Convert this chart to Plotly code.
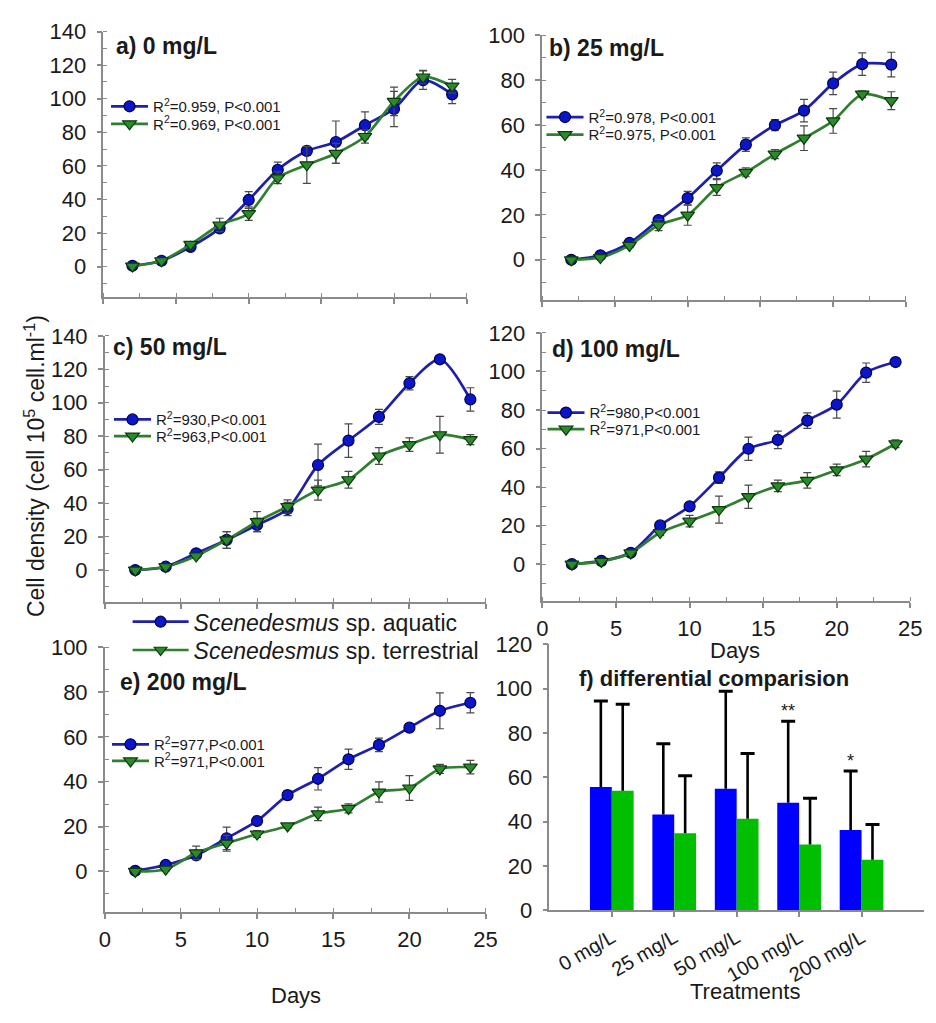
import plotly.graph_objects as go

W, H = 936, 1023
FONT = "Liberation Sans, Arial, sans-serif"

# ---------------- data ----------------
days = [2, 4, 6, 8, 10, 12, 14, 16, 18, 20, 22, 24]

a_aq = [0.5, 3.5, 11.8, 22.8, 39.7, 57.7, 68.9, 74.2, 84.2, 93.9, 111.0, 102.6]
a_aq_err = [0.5, 0.8, 1.5, 1.5, 5.0, 4.5, 2.5, 12.5, 8.0, 10.5, 5.5, 5.5]
a_te = [0.3, 3.5, 13.2, 24.8, 31.6, 52.9, 60.6, 67.4, 77.5, 98.4, 112.9, 107.5]
a_te_err = [0.5, 0.8, 1.5, 4.0, 4.0, 3.5, 11.0, 6.0, 4.0, 8.5, 4.0, 4.0]

b_aq = [0.0, 2.0, 7.5, 17.7, 27.5, 39.7, 51.3, 60.0, 66.5, 78.6, 87.2, 87.0]
b_aq_err = [0.5, 0.8, 1.0, 1.5, 3.0, 3.5, 3.0, 2.5, 5.0, 5.0, 5.0, 5.5]
b_te = [0.0, 1.0, 6.4, 15.5, 19.9, 32.2, 39.0, 47.1, 54.2, 61.9, 73.8, 70.9]
b_te_err = [0.5, 0.8, 1.0, 2.5, 4.5, 3.5, 2.0, 2.0, 5.5, 5.5, 1.5, 4.0]

c_aq = [0.0, 2.0, 10.0, 18.0, 27.0, 36.5, 62.8, 77.4, 91.6, 111.7, 126.0, 102.0]
c_aq_err = [0.5, 0.8, 1.0, 5.0, 4.0, 4.0, 12.5, 10.0, 4.5, 4.0, 1.5, 7.0]
c_te = [0.0, 2.0, 8.4, 18.0, 28.9, 38.0, 47.8, 54.0, 68.2, 75.0, 80.9, 78.0]
c_te_err = [0.5, 0.8, 1.0, 5.0, 6.0, 4.0, 6.0, 5.0, 5.0, 4.0, 11.0, 3.0]

d_aq = [0.0, 1.7, 5.9, 20.1, 30.0, 44.9, 59.9, 64.5, 74.5, 82.8, 99.4, 104.9]
d_aq_err = [0.5, 0.8, 1.0, 1.5, 2.0, 3.0, 6.0, 4.5, 4.0, 7.0, 5.0, 2.0]
d_te = [0.0, 1.4, 5.8, 16.4, 22.3, 28.3, 35.0, 40.6, 43.5, 48.9, 54.5, 62.5]
d_te_err = [0.5, 0.8, 1.0, 1.5, 3.0, 7.0, 6.0, 3.0, 4.0, 3.0, 4.0, 2.0]

e_aq = [0.3, 2.9, 7.2, 14.8, 22.5, 34.0, 41.3, 50.0, 56.4, 64.1, 71.6, 75.2]
e_aq_err = [0.5, 0.8, 1.0, 5.0, 1.5, 2.0, 5.0, 4.5, 3.0, 1.0, 8.0, 4.5]
e_te = [0.0, 1.0, 8.3, 12.6, 16.7, 20.3, 25.7, 28.1, 35.4, 37.2, 45.7, 46.5]
e_te_err = [0.5, 0.8, 3.0, 3.5, 1.5, 1.0, 3.0, 2.0, 4.5, 5.5, 2.0, 3.0]

r2_text = {
    "a": ["R<sup>2</sup>=0.959, P<0.001", "R<sup>2</sup>=0.969, P<0.001"],
    "b": ["R<sup>2</sup>=0.978, P<0.001", "R<sup>2</sup>=0.975, P<0.001"],
    "c": ["R<sup>2</sup>=930,P<0.001", "R<sup>2</sup>=963,P<0.001"],
    "d": ["R<sup>2</sup>=980,P<0.001", "R<sup>2</sup>=971,P<0.001"],
    "e": ["R<sup>2</sup>=977,P<0.001", "R<sup>2</sup>=971,P<0.001"],
}
panel_titles = {"a": "a) 0 mg/L", "b": "b) 25 mg/L", "c": "c) 50 mg/L",
                "d": "d) 100 mg/L", "e": "e) 200 mg/L"}

treatments = ["0 mg/L", "25 mg/L", "50 mg/L", "100 mg/L", "200 mg/L"]
f_aq = [55.6, 43.2, 54.9, 48.6, 36.3]
f_aq_err = [38.8, 31.9, 43.9, 36.7, 26.5]
f_te = [54.0, 34.8, 41.3, 29.7, 22.9]
f_te_err = [38.9, 25.9, 29.4, 20.9, 15.9]
f_marks = ["", "", "", "**", "*"]

series_names = ["<i>Scenedesmus</i> sp. aquatic", "<i>Scenedesmus</i> sp. terrestrial"]

# ---------------- styles ----------------
BLUE_L, BLUE_F, BLUE_E = "#1f1fae", "#0a16c8", "#00004f"
GREEN_L, GREEN_F, GREEN_E = "#2f7f2f", "#2b8a2b", "#0b3a0b"
BAR_B, BAR_G = "#0000ff", "#00bf00"
AX = "#8a8a8a"
TXT = "#1a1a1a"


def px_x(p):
    return p / W


def px_y(p):
    return 1 - p / H


# panel geometry in pixels: (x0, x1, ytop, ybottom, yrange)
geo = {
    "a": (99.3, 469.7, 20, 292, [-18, 140]),
    "b": (546.7, 917.5, 24, 295.4, [-18, 100]),
    "c": (100.7, 489, 332, 604.6, [-19, 140]),
    "d": (547, 922, 329, 603.5, [-19, 120]),
    "e": (100.7, 489, 651, 922.4, [-18, 100]),
}
title_pos = {"a": (110, 35), "b": (552, 37), "c": (107, 343), "d": (555, 345), "e": (114, 687)}
# (text start x, row1 y, row2 y)
legend_pos = {"a": (153, 104, 122), "b": (597, 115, 133), "c": (156, 425, 442),
              "d": (598, 418, 435), "e": (154, 758, 775)}

fig = go.Figure()
layout = dict(
    width=W, height=H, margin=dict(l=0, r=0, t=0, b=0),
    paper_bgcolor="white", plot_bgcolor="white",
    font=dict(family=FONT, color=TXT),
    showlegend=True, annotations=[],
)

axis_base = dict(
    showline=True, linecolor=AX, linewidth=1.5, ticks="outside", ticklen=5,
    tickcolor=AX, tickwidth=1.5, showgrid=False, zeroline=False,
    tickfont=dict(family=FONT, size=22, color=TXT), fixedrange=True,
)

panels = [
    ("a", a_aq, a_aq_err, a_te, a_te_err, False),
    ("b", b_aq, b_aq_err, b_te, b_te_err, False),
    ("c", c_aq, c_aq_err, c_te, c_te_err, False),
    ("d", d_aq, d_aq_err, d_te, d_te_err, True),
    ("e", e_aq, e_aq_err, e_te, e_te_err, True),
]

LEG_IW = 37
leg_counter = [1]


def new_legend(text_x, row_y, size, iw, top_off):
    leg_counter[0] += 1
    name = f"legend{leg_counter[0]}"
    layout[name] = dict(
        x=px_x(text_x - iw - 14), y=px_y(row_y - top_off), xanchor="left", yanchor="top",
        bgcolor="rgba(0,0,0,0)", borderwidth=0, tracegroupgap=0,
        font=dict(family=FONT, size=size, color=TXT), itemwidth=iw,
    )
    return name


for i, (key, aq, aqe, te, tee, showx) in enumerate(panels):
    n = i + 1
    xa = "x" if n == 1 else f"x{n}"
    ya = "y" if n == 1 else f"y{n}"
    x0, x1, yt, yb, yr = geo[key]
    layout["xaxis" if n == 1 else f"xaxis{n}"] = dict(
        axis_base, domain=[px_x(x0), px_x(x1)], range=[0, 25], dtick=5, tick0=0,
        anchor=ya, showticklabels=showx, ticklabelstandoff=2,
        minor=dict(ticks="inside", dtick=2.5, tick0=0, ticklen=4, tickcolor=AX, tickwidth=1.2),
    )
    layout["yaxis" if n == 1 else f"yaxis{n}"] = dict(
        axis_base, domain=[px_y(yb), px_y(yt)], range=yr, dtick=20, tick0=0,
        anchor=xa, ticklabelstandoff=6,
        minor=dict(ticks="inside", dtick=10, tick0=0, ticklen=4, tickcolor=AX, tickwidth=1.2),
    )
    tx0, r1, r2 = legend_pos[key]
    for vals, errs, lc, fc, ec, sym, lbl, ry in [
        (aq, aqe, BLUE_L, BLUE_F, BLUE_E, "circle", r2_text[key][0], r1),
        (te, tee, GREEN_L, GREEN_F, GREEN_E, "triangle-down", r2_text[key][1], r2),
    ]:
        legname = new_legend(tx0, ry, 15, LEG_IW, 24)
        fig.add_trace(go.Scatter(
            x=days, y=vals, xaxis=xa, yaxis=ya, mode="lines+markers", name=lbl,
            legend=legname,
            line=dict(color=lc, width=2.7, shape="spline", smoothing=0.8),
            marker=dict(symbol=sym, size=11 if sym == "circle" else 12, color=fc,
                        line=dict(color=ec, width=1.2)),
            error_y=dict(type="data", array=errs, visible=True, color="#4a4a4a",
                         thickness=1.2, width=4),
        ))
    tx, ty = title_pos[key]
    layout["annotations"].append(dict(
        text=f"<b>{panel_titles[key]}</b>", x=px_x(tx), y=px_y(ty), xref="paper", yref="paper",
        xanchor="left", yanchor="middle", showarrow=False,
        font=dict(family=FONT, size=23, color=TXT)))

# big series legend (legend-only traces)
for nm, lc, fc, ec, sym, ry in [
    (series_names[0], BLUE_L, BLUE_F, BLUE_E, "circle", 623),
    (series_names[1], GREEN_L, GREEN_F, GREEN_E, "triangle-down", 652),
]:
    legname = new_legend(194, ry, 23, 56, 20)
    fig.add_trace(go.Scatter(
        x=[None], y=[None], xaxis="x5", yaxis="y5", mode="lines+markers", name=nm,
        legend=legname,
        line=dict(color=lc, width=2.7),
        marker=dict(symbol=sym, size=11, color=fc, line=dict(color=ec, width=1.2)),
    ))
layout["legend"] = dict(visible=False)

# ---------------- panel f: bars ----------------
off = 0.175
bw = 0.35
idx = list(range(len(treatments)))
layout["xaxis6"] = dict(
    axis_base, domain=[px_x(554), px_x(936)], range=[-1, 5], anchor="y6",
    tickmode="array", tickvals=idx, ticktext=treatments, tickangle=-30,
    ticklen=5, ticklabelstandoff=1, tickfont=dict(family=FONT, size=20, color=TXT),
)
layout["yaxis6"] = dict(
    axis_base, domain=[px_y(921), px_y(648)], range=[0, 120], dtick=20, anchor="x6",
    ticklabelstandoff=6,
)
for vals, errs, col, sgn in [(f_aq, f_aq_err, BAR_B, -1), (f_te, f_te_err, BAR_G, 1)]:
    xs = [i + sgn * off for i in idx]
    fig.add_trace(go.Bar(
        x=xs, y=vals, width=bw, marker=dict(color=col, line=dict(width=0)),
        xaxis="x6", yaxis="y6", showlegend=False,
    ))
    tops = [v + e for v, e in zip(vals, errs)]
    fig.add_trace(go.Scatter(
        x=xs, y=tops, mode="markers", xaxis="x6", yaxis="y6", showlegend=False,
        marker=dict(symbol="line-ew", size=10, line=dict(color="black", width=3)),
        error_y=dict(type="data", symmetric=False, array=[0] * len(errs), arrayminus=errs,
                     color="black", thickness=2.6, width=0),
    ))

for i, m in enumerate(f_marks):
    if m:
        layout["annotations"].append(dict(
            text=m, x=i - off, y=f_aq[i] + f_aq_err[i], xref="x6", yref="y6",
            xanchor="center", yanchor="bottom", showarrow=False, yshift=-2,
            font=dict(family=FONT, size=18, color=TXT)))

layout["annotations"].append(dict(
    text="<b>f) differential comparision</b>", x=px_x(582), y=px_y(683), xref="paper", yref="paper",
    xanchor="left", yanchor="middle", showarrow=False, font=dict(family=FONT, size=22, color=TXT)))

# axis titles
for txt, x, y, rot, size in [
    ("Days", 743, 655, 0, 22),
    ("Days", 296, 1008, 0, 22),
    ("Treatments", 753, 1004, 0, 22),
    ("Cell density (cell 10<sup>5</sup> cell.ml<sup>-1</sup>)", 29, 465, -90, 23),
]:
    layout["annotations"].append(dict(
        text=txt, x=px_x(x), y=px_y(y), xref="paper", yref="paper", xanchor="center",
        yanchor="middle", showarrow=False, textangle=rot,
        font=dict(family=FONT, size=size, color=TXT)))

fig.update_layout(**layout)
fig.write_html("out.html")
